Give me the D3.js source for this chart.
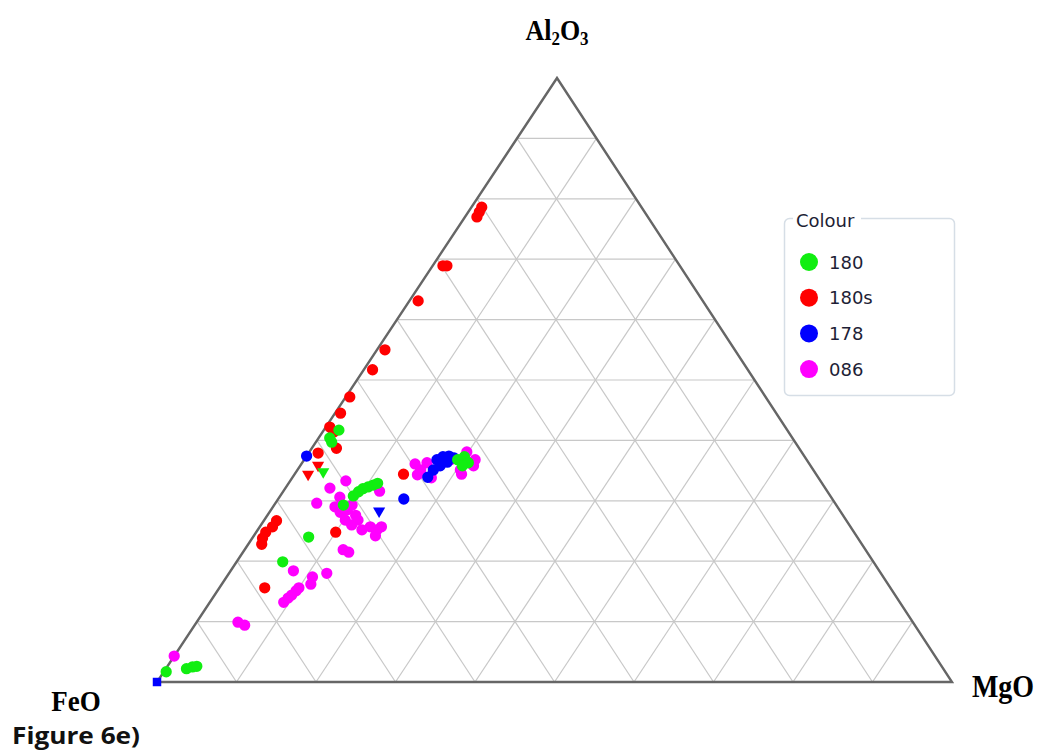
<!DOCTYPE html>
<html>
<head>
<meta charset="utf-8">
<script src="https://cdn.jsdelivr.net/npm/d3@7"></script>
<style>
    html, body { margin: 0; padding: 0; background: #fff; }
    svg { display: block; }
</style>
</head>
<body>
<div id="container"><svg width="1038" height="756"></svg></div>
<script>
// values are [FeO, MgO, Al2O3] in %
var s180 = [
    [56.4, 1.9, 41.7], [58.2, 1.4, 40.4], [58.3, 2.0, 39.7],
    [60.0, 9.2, 30.8], [59.0, 9.5, 31.5], [58.2, 9.8, 32.0], [57.4, 10.3, 32.3],
    [56.6, 10.8, 32.6], [55.9, 11.2, 32.9], [62.0, 8.7, 29.3], [69.0, 7.0, 24.0],
    [74.3, 5.8, 19.9], [43.9, 19.3, 36.8], [42.8, 19.9, 37.3], [42.8, 20.9, 36.3],
    [43.8, 20.4, 35.8], [95.2, 2.6, 2.2], [94.3, 3.2, 2.5], [93.7, 3.7, 2.6],
    [98.0, 0.3, 1.7]
];
var s180Tri = [[61.8, 3.4, 34.8]];

var s180s = [
    [21.5, 1.5, 77.0], [20.8, 1.4, 77.8], [20.1, 1.3, 78.6], [29.8, 1.3, 68.9],
    [29.3, 1.8, 68.9], [35.8, 1.1, 63.1], [44.0, 1.0, 55.0], [47.2, 1.1, 51.7],
    [52.3, 0.5, 47.2], [54.8, 0.7, 44.5], [57.3, 0.5, 42.2], [57.2, 1.4, 41.4],
    [58.2, 3.1, 38.7], [60.9, 1.2, 37.9], [51.9, 13.7, 34.4], [65.2, 10.0, 24.8],
    [71.7, 1.6, 26.7], [72.7, 1.6, 25.7], [74.0, 1.2, 24.8], [74.9, 1.3, 23.8],
    [75.5, 1.7, 22.8], [78.7, 5.7, 15.6]
];
var s180sTri = [[61.9, 2.2, 35.9], [63.9, 1.7, 34.4]];

var s178 = [
    [62.6, 0.0, 37.4], [53.9, 15.8, 30.3], [46.5, 16.7, 36.8], [45.5, 17.2, 37.3],
    [44.7, 17.9, 37.4], [44.2, 18.7, 37.1], [46.6, 17.6, 35.8], [47.8, 17.1, 35.1],
    [49.1, 17.0, 33.9], [45.4, 18.2, 36.4]
];
var s178Tri = [[58.0, 13.7, 28.3]];
var s178Sq = [[100, 0, 0]];

var s086 = [
    [95.7, 0.0, 4.3], [84.9, 5.2, 9.9], [84.3, 6.3, 9.4], [77.5, 9.3, 13.2],
    [76.6, 9.5, 13.9], [75.9, 9.7, 14.4], [75.0, 9.9, 15.1], [74.4, 10.0, 15.6],
    [73.7, 7.9, 18.4], [71.8, 10.8, 17.4], [72.6, 11.2, 16.2], [69.7, 12.3, 18.0],
    [62.3, 5.6, 32.1], [65.2, 5.2, 29.6], [59.7, 7.0, 33.3], [56.3, 12.1, 31.6],
    [63.2, 7.8, 29.0], [63.0, 8.9, 28.1], [61.9, 9.6, 28.5], [60.9, 9.8, 29.3],
    [63.0, 10.2, 26.8], [62.6, 11.4, 26.0], [61.4, 11.8, 26.8], [61.7, 13.1, 25.2],
    [60.4, 13.9, 25.7], [59.8, 15.0, 25.2], [60.5, 15.3, 24.2], [59.0, 15.3, 25.7],
    [65.7, 12.4, 21.9], [65.2, 13.3, 21.5], [61.8, 7.6, 30.6], [61.3, 11.1, 27.6],
    [49.6, 14.3, 36.1], [50.2, 15.5, 34.3], [48.0, 15.7, 36.3], [48.7, 17.5, 33.8],
    [44.8, 18.4, 36.8], [44.4, 20.5, 35.1], [42.1, 19.8, 38.1], [41.7, 21.5, 36.8],
    [44.6, 21.0, 34.4], [49.4, 15.5, 35.1], [42.4, 21.8, 35.8]
];

var legendNames = ['180', '180s', '178', '086'];
var legendColors = ['#11ee11', '#ff0000', '#0000ff', '#ff00ff'];
var gridSteps = [10, 20, 30, 40, 50, 60, 70, 80, 90];

var svg;
var yScale = d3.scaleLinear().domain([0, 100]).range([682, 78]);
var mgoScale = d3.scaleLinear().domain([0, 100]).range([157, 952]);
var shiftScale = d3.scaleLinear().domain([0, 100]).range([0, 400]);

function project(d) {
    var sum = d[0] + d[1] + d[2];
    var m = d[1] / sum * 100;
    var a = d[2] / sum * 100;
    return [mgoScale(m) + shiftScale(a), yScale(a)];
}

function main() {
    svg = d3.select('#container svg');
    drawGrid();
    drawPoints();
    drawLegend();
    drawLabels();
}

function drawGrid() {
    var grid = svg.append('g').attr('fill', 'none').attr('stroke', '#c8c8c8').attr('stroke-width', 1.2);
    var line = d3.line();

    gridSteps.forEach(function(k) {
        // constant Al2O3
        grid.append('path').attr('d', line([project([100 - k, 0, k]), project([0, 100 - k, k])]));
        // constant MgO
        grid.append('path').attr('d', line([project([100 - k, k, 0]), project([0, k, 100 - k])]));
        // constant FeO
        grid.append('path').attr('d', line([project([k, 100 - k, 0]), project([k, 0, 100 - k])]));
    });

    svg.append('path')
        .attr('d', line([project([100, 0, 0]), project([0, 100, 0]), project([0, 0, 100])]) + 'Z')
        .attr('fill', 'none')
        .attr('stroke', '#666')
        .attr('stroke-width', 2.4)
        .attr('stroke-linejoin', 'miter');
}

function drawSeries(g, data, color, shape) {
    var sym = d3.symbol().type(shape === 'tri' ? d3.symbolTriangle : shape === 'sq' ? d3.symbolSquare : d3.symbolCircle)
        .size(shape === 'tri' ? 64 : shape === 'sq' ? 72 : 100);
    g.selectAll(null)
        .data(data)
        .enter()
        .append('path')
        .attr('d', sym)
        .attr('fill', color)
        .attr('transform', function(d) {
            var p = project(d);
            return 'translate(' + p[0] + ',' + p[1] + ')' + (shape === 'tri' ? ' rotate(180)' : '');
        });
}

function drawPoints() {
    var g = svg.append('g');
    drawSeries(g, s086, legendColors[3], 'circle');
    drawSeries(g, s178, legendColors[2], 'circle');
    drawSeries(g, s178Tri, legendColors[2], 'tri');
    drawSeries(g, s178Sq, legendColors[2], 'sq');
    drawSeries(g, s180s, legendColors[1], 'circle');
    drawSeries(g, s180sTri, legendColors[1], 'tri');
    drawSeries(g, s180, legendColors[0], 'circle');
    drawSeries(g, s180Tri, legendColors[0], 'tri');
}

function drawLegend() {
    var g = svg.append('g').attr('transform', 'translate(784,218)');
    g.append('rect')
        .attr('x', 0.5).attr('y', 0.5)
        .attr('width', 170).attr('height', 177)
        .attr('rx', 5)
        .attr('fill', '#fff')
        .attr('stroke', '#d6dee6')
        .attr('stroke-width', 1.5);
    g.append('rect')
        .attr('x', 9).attr('y', -4)
        .attr('width', 68).attr('height', 10)
        .attr('fill', '#fff');
    g.append('text')
        .attr('x', 12).attr('y', 9)
        .attr('font-family', 'DejaVu Sans, sans-serif')
        .attr('font-size', 18)
        .attr('fill', '#1e1e36')
        .text('Colour');

    var item = g.selectAll('.item')
        .data(legendNames)
        .enter()
        .append('g')
        .attr('class', 'item')
        .attr('transform', function(d, i) { return 'translate(0,' + (44 + i * 35.7) + ')'; });
    item.append('circle')
        .attr('cx', 25).attr('cy', 0).attr('r', 9)
        .attr('fill', function(d, i) { return legendColors[i]; });
    item.append('text')
        .attr('x', 45).attr('y', 6.5)
        .attr('font-family', 'DejaVu Sans, sans-serif')
        .attr('font-size', 18)
        .attr('fill', '#1e1e36')
        .text(function(d) { return d; });
}

function drawLabels() {
    var serif = 'Liberation Serif, Times New Roman, serif';

    var al = svg.append('text')
        .attr('transform', 'translate(557,40) scale(1,1.15)')
        .attr('text-anchor', 'middle')
        .attr('font-family', serif)
        .attr('font-weight', 'bold')
        .attr('font-size', 26);
    al.append('tspan').text('Al');
    al.append('tspan').attr('font-size', 17).attr('dy', 4).text('2');
    al.append('tspan').attr('dy', -4).text('O');
    al.append('tspan').attr('font-size', 17).attr('dy', 4).text('3');

    svg.append('text')
        .attr('transform', 'translate(76,711) scale(1,1.1)')
        .attr('text-anchor', 'middle')
        .attr('font-family', serif)
        .attr('font-weight', 'bold')
        .attr('font-size', 27)
        .text('FeO');

    svg.append('text')
        .attr('transform', 'translate(1003,697) scale(1,1.12)')
        .attr('text-anchor', 'middle')
        .attr('font-family', serif)
        .attr('font-weight', 'bold')
        .attr('font-size', 28)
        .text('MgO');

    svg.append('text')
        .attr('x', 12).attr('y', 744)
        .attr('font-family', 'Open Sans, sans-serif')
        .attr('font-weight', 'bold')
        .attr('font-size', 24)
        .attr('textLength', 128)
        .attr('lengthAdjust', 'spacingAndGlyphs')
        .attr('fill', '#111')
        .text('Figure 6e)');
}

main();
</script>
</body>
</html>
